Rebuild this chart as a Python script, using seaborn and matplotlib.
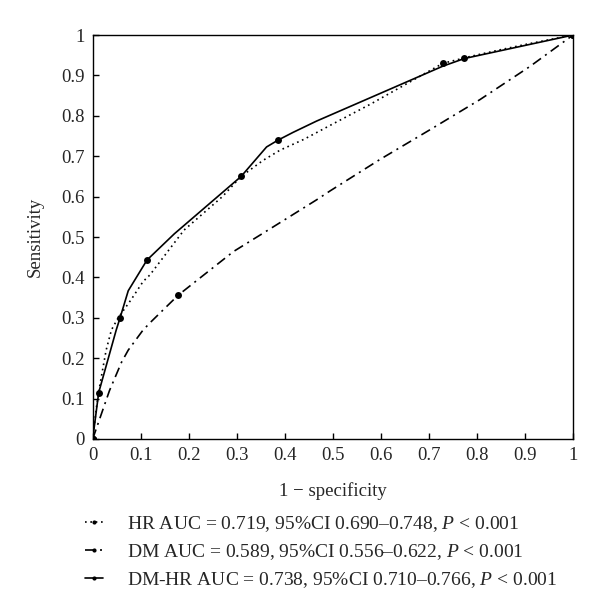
import matplotlib
matplotlib.use("Agg")
import matplotlib.pyplot as plt
from matplotlib.lines import Line2D
import seaborn as sns
import pandas as pd

# ROC curves
hr_fpr = [0, 0.008, 0.0145, 0.018, 0.028, 0.039, 0.053, 0.08, 0.105, 0.119, 0.19,
          0.27, 0.309, 0.355, 0.39, 0.44, 0.50, 0.58, 0.65, 0.729, 0.786, 0.85,
          0.91, 1]
hr_tpr = [0, 0.08, 0.13, 0.154, 0.22, 0.27, 0.30, 0.345, 0.39, 0.406, 0.517,
          0.60, 0.65, 0.69, 0.715, 0.742, 0.78, 0.83, 0.877, 0.930, 0.947, 0.964,
          0.979, 1]

dm_fpr = [0, 0.035, 0.06, 0.074, 0.105, 0.123, 0.178, 0.244, 0.293, 0.35, 0.40,
          0.466, 0.494, 0.598, 0.70, 0.806, 0.91, 1]
dm_tpr = [0, 0.12, 0.19, 0.22, 0.27, 0.292, 0.356, 0.418, 0.464, 0.506, 0.543,
          0.592, 0.614, 0.692, 0.764, 0.84, 0.922, 1]

dmhr_fpr = [0, 0.0125, 0.049, 0.057, 0.074, 0.113, 0.17, 0.309, 0.362, 0.386,
            0.417, 0.466, 0.729, 0.774, 1]
dmhr_tpr = [0, 0.115, 0.27, 0.300, 0.367, 0.443, 0.508, 0.650, 0.723, 0.740,
            0.759, 0.787, 0.923, 0.942, 1]

# cut-off points shown with dots
hr_pts = [0, 19, 23]
dm_pts = [0, 6, 17]
dmhr_pts = [0, 1, 3, 5, 7, 9, 13, 14]

labels = [
    r"HR AUC = 0.719, 95%CI 0.690–0.748, $P$ < 0.001",
    r"DM AUC = 0.589, 95%CI 0.556–0.622, $P$ < 0.001",
    r"DM-HR AUC = 0.738, 95%CI 0.710–0.766, $P$ < 0.001",
]

sns.set_style("ticks", {"xtick.direction": "in", "ytick.direction": "in"})
plt.rcParams["font.family"] = ["Liberation Serif", "DejaVu Serif"]
plt.rcParams["mathtext.fontset"] = "custom"
plt.rcParams["mathtext.it"] = "Liberation Serif:italic"
plt.rcParams["mathtext.rm"] = "Liberation Serif"

fig = plt.figure(figsize=(6, 6.12), dpi=100)
ax = fig.add_axes([0.1545, 0.2827, 0.8005, 0.6600])

curves = [
    (hr_fpr, hr_tpr, hr_pts, (0, (1, 2.2))),
    (dm_fpr, dm_tpr, dm_pts, (0, (6, 3, 1.2, 3))),
    (dmhr_fpr, dmhr_tpr, dmhr_pts, "-"),
]
handles = []
for (fx, ty, pts, ls), lab in zip(curves, labels):
    df = pd.DataFrame({"fpr": fx, "tpr": ty})
    sns.lineplot(data=df, x="fpr", y="tpr", ax=ax, sort=False, estimator=None,
                 color="black", linestyle=ls, linewidth=1.2,
                 marker="o", markersize=5, markevery=pts, markeredgewidth=0)
    handles.append(Line2D([], [], color="black", linestyle=ls, linewidth=1.2,
                          marker="o", markersize=3, markeredgewidth=0))

ax.set_xlim(0, 1)
ax.set_ylim(0, 1)
ticks = [0, 0.1, 0.2, 0.3, 0.4, 0.5, 0.6, 0.7, 0.8, 0.9, 1]
tick_labels = ["0", "0.1", "0.2", "0.3", "0.4", "0.5", "0.6", "0.7", "0.8", "0.9", "1"]
ax.set_xticks(ticks)
ax.set_xticklabels(tick_labels)
ax.set_yticks(ticks)
ax.set_yticklabels(tick_labels)
ax.tick_params(labelsize=13.5, length=4, width=1, color="black", pad=6)
for s in ax.spines.values():
    s.set_color("black")
    s.set_linewidth(1)
ax.set_xlabel("1 − specificity", fontsize=13.5, labelpad=13)
ax.set_ylabel("Sensitivity", fontsize=13.5, labelpad=12)

fig.legend(handles, labels, loc="upper left", bbox_to_anchor=(0.126, 0.1765),
           frameon=False, fontsize=14, handlelength=0.93, handletextpad=1.2,
           labelspacing=0.43, borderpad=0, numpoints=1)

fig.savefig("out.png", dpi=100, facecolor="white")
